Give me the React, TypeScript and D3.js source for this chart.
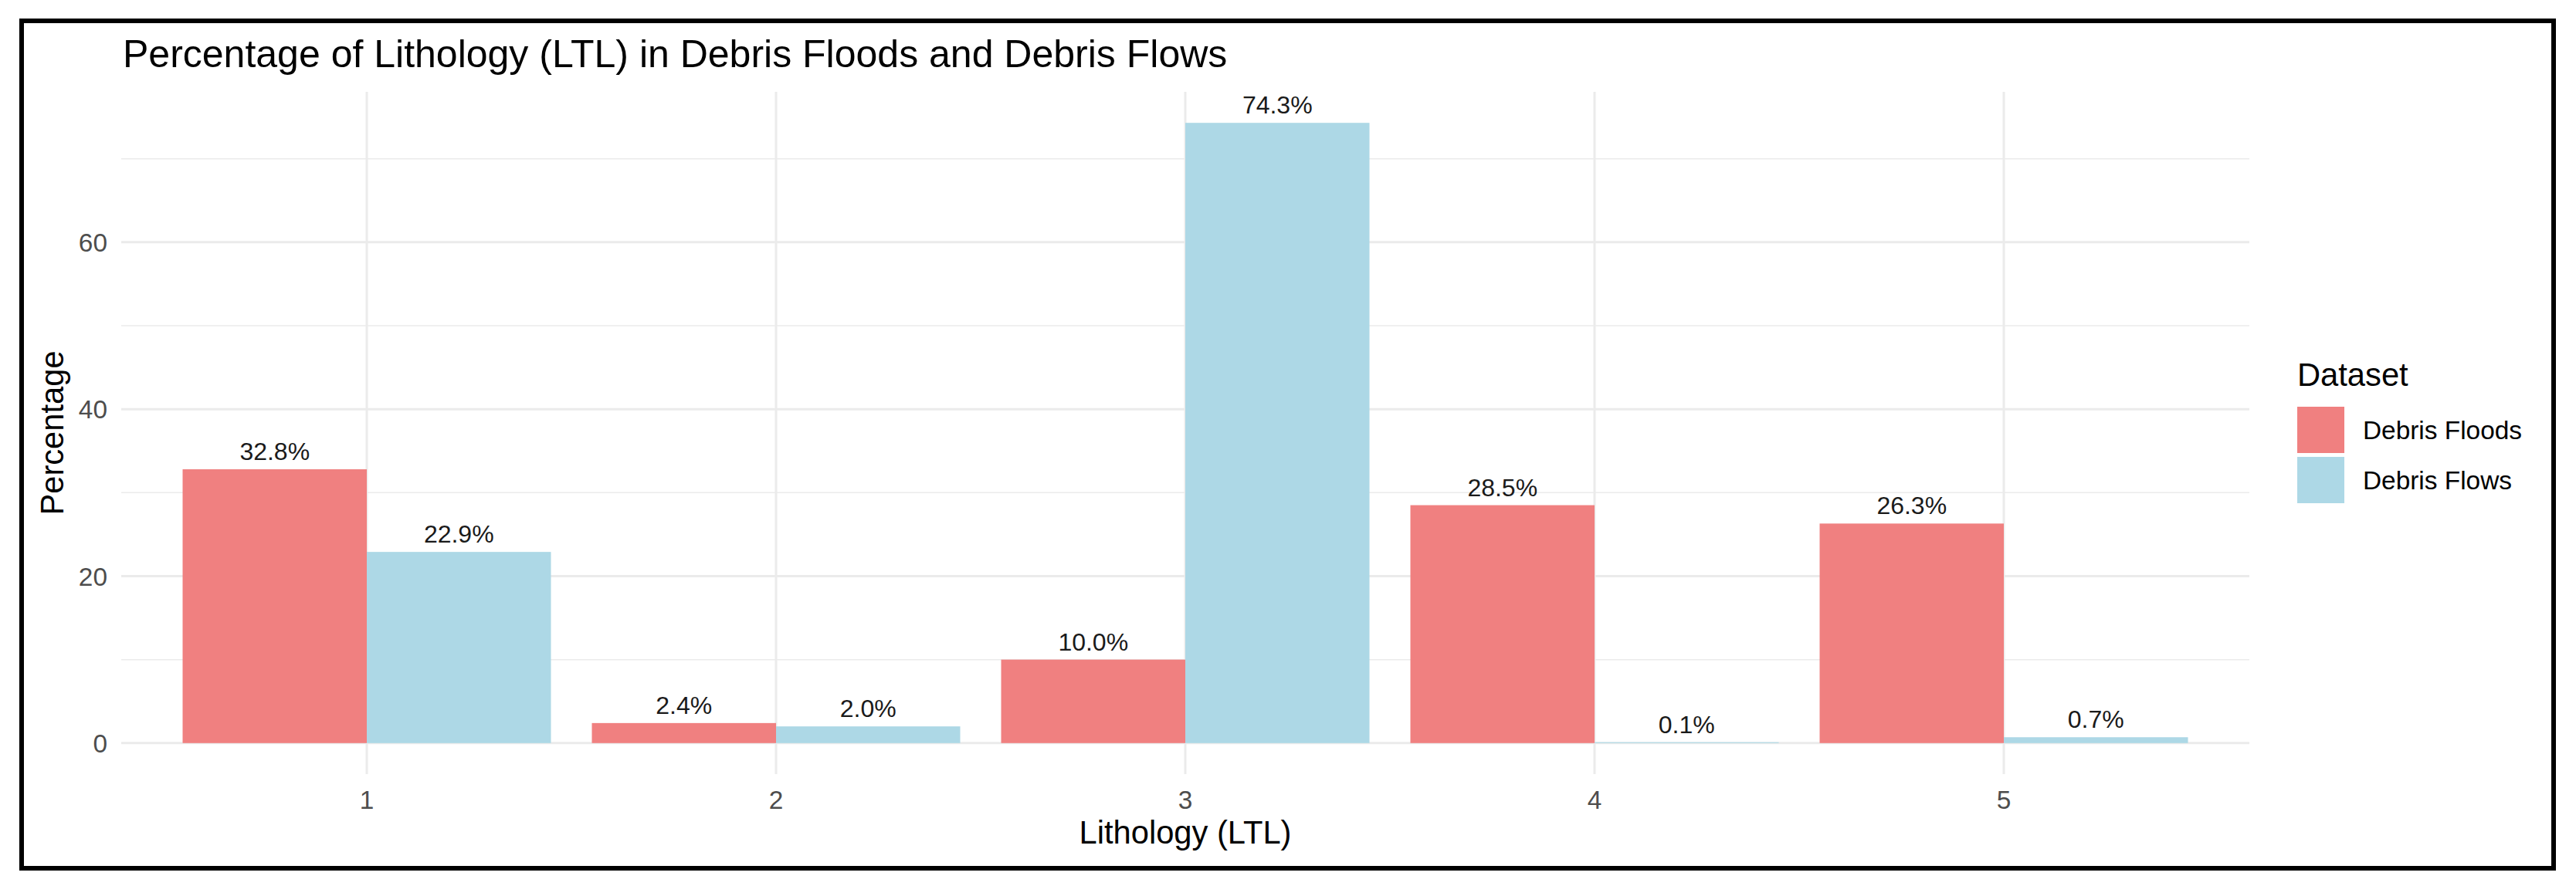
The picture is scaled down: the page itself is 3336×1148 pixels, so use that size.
import * as d3 from 'd3';

const categories = ['1', '2', '3', '4', '5'];
const datasets = ['Debris Floods', 'Debris Flows'];
const floodsValues = [32.8, 2.4, 10.0, 28.5, 26.3];
const flowsValues = [22.9, 2.0, 74.3, 0.1, 0.7];
const majorTicks = [0, 20, 40, 60];
const minorTicks = [10, 30, 50, 70];
const colors = ['#F08080', '#ADD8E6'];

const W = 3336;
const H = 1148;
const FONT = "'Liberation Sans', Arial, Helvetica, sans-serif";

export default function App() {
  const panel = { left: 157, right: 2913, top: 119, bottom: 1003 };
  const maxV = d3.max([...floodsValues, ...flowsValues]) as number;
  const pad = maxV * 0.05;

  const x = d3.scaleBand<string>()
    .domain(categories)
    .range([panel.left, panel.right])
    .paddingInner(0.1)
    .paddingOuter(0.15);

  const xInner = d3.scaleBand<string>()
    .domain(datasets)
    .range([0, x.bandwidth()]);

  const y = d3.scaleLinear()
    .domain([-pad, maxV + pad])
    .range([panel.bottom, panel.top]);

  const center = (c: string) => (x(c) as number) + x.bandwidth() / 2;

  const rows = categories.flatMap((c, i) => [
    { cat: c, set: datasets[0], value: floodsValues[i], color: colors[0] },
    { cat: c, set: datasets[1], value: flowsValues[i], color: colors[1] },
  ]);

  const midY = (panel.top + panel.bottom) / 2;
  const midX = (panel.left + panel.right) / 2;

  return (
    <div style={{ position: 'absolute', left: 0, top: 0 }}>
      <svg width={W} height={H} style={{ display: 'block', fontFamily: FONT }}>
        <rect x={0} y={0} width={W} height={H} fill="#fff" />

        {/* grid */}
        {minorTicks.map(t => (
          <line key={'mn' + t} x1={panel.left} x2={panel.right} y1={y(t)} y2={y(t)}
            stroke="#EBEBEB" strokeWidth={1.5} />
        ))}
        {majorTicks.map(t => (
          <line key={'mj' + t} x1={panel.left} x2={panel.right} y1={y(t)} y2={y(t)}
            stroke="#EBEBEB" strokeWidth={3} />
        ))}
        {categories.map(c => (
          <line key={'vx' + c} x1={center(c)} x2={center(c)} y1={panel.top} y2={panel.bottom}
            stroke="#EBEBEB" strokeWidth={3} />
        ))}

        {/* bars */}
        {rows.map(r => (
          <rect key={r.cat + r.set}
            x={(x(r.cat) as number) + (xInner(r.set) as number)}
            y={y(r.value)}
            width={xInner.bandwidth()}
            height={y(0) - y(r.value)}
            fill={r.color} />
        ))}

        {/* bar labels */}
        {rows.map(r => (
          <text key={'l' + r.cat + r.set}
            x={(x(r.cat) as number) + (xInner(r.set) as number) + xInner.bandwidth() / 2}
            y={y(r.value) - 12}
            textAnchor="middle" fontSize={32} fill="#1a1a1a">
            {r.value.toFixed(1) + '%'}
          </text>
        ))}

        {/* y axis labels */}
        {majorTicks.map(t => (
          <text key={'yt' + t} x={139} y={y(t)} dy="0.36em" textAnchor="end"
            fontSize={33.4} fill="#4D4D4D">{t}</text>
        ))}

        {/* x axis labels */}
        {categories.map(c => (
          <text key={'xt' + c} x={center(c)} y={1048} textAnchor="middle"
            fontSize={33.4} fill="#4D4D4D">{c}</text>
        ))}

        {/* axis titles */}
        <text x={midX} y={1093} textAnchor="middle" fontSize={41.7} fill="#000">Lithology (LTL)</text>
        <text transform={`translate(82,${midY}) rotate(-90)`} textAnchor="middle"
          fontSize={41.7} fill="#000">Percentage</text>

        {/* title */}
        <text x={panel.left + 2} y={87} fontSize={50} fill="#000">
          Percentage of Lithology (LTL) in Debris Floods and Debris Flows
        </text>

        {/* legend */}
        <text x={2975} y={500} fontSize={41.7} fill="#000">Dataset</text>
        {datasets.map((d, i) => (
          <g key={'lg' + d} transform={`translate(2975,${527 + i * 65})`}>
            <rect x={0} y={0} width={61} height={60} fill={colors[i]} />
            <text x={85} y={30} dy="0.36em" fontSize={33.4} fill="#000">{d}</text>
          </g>
        ))}

        {/* frame */}
        <rect x={28} y={27} width={3279} height={1098} fill="none" stroke="#000" strokeWidth={6} />
      </svg>
    </div>
  );
}
